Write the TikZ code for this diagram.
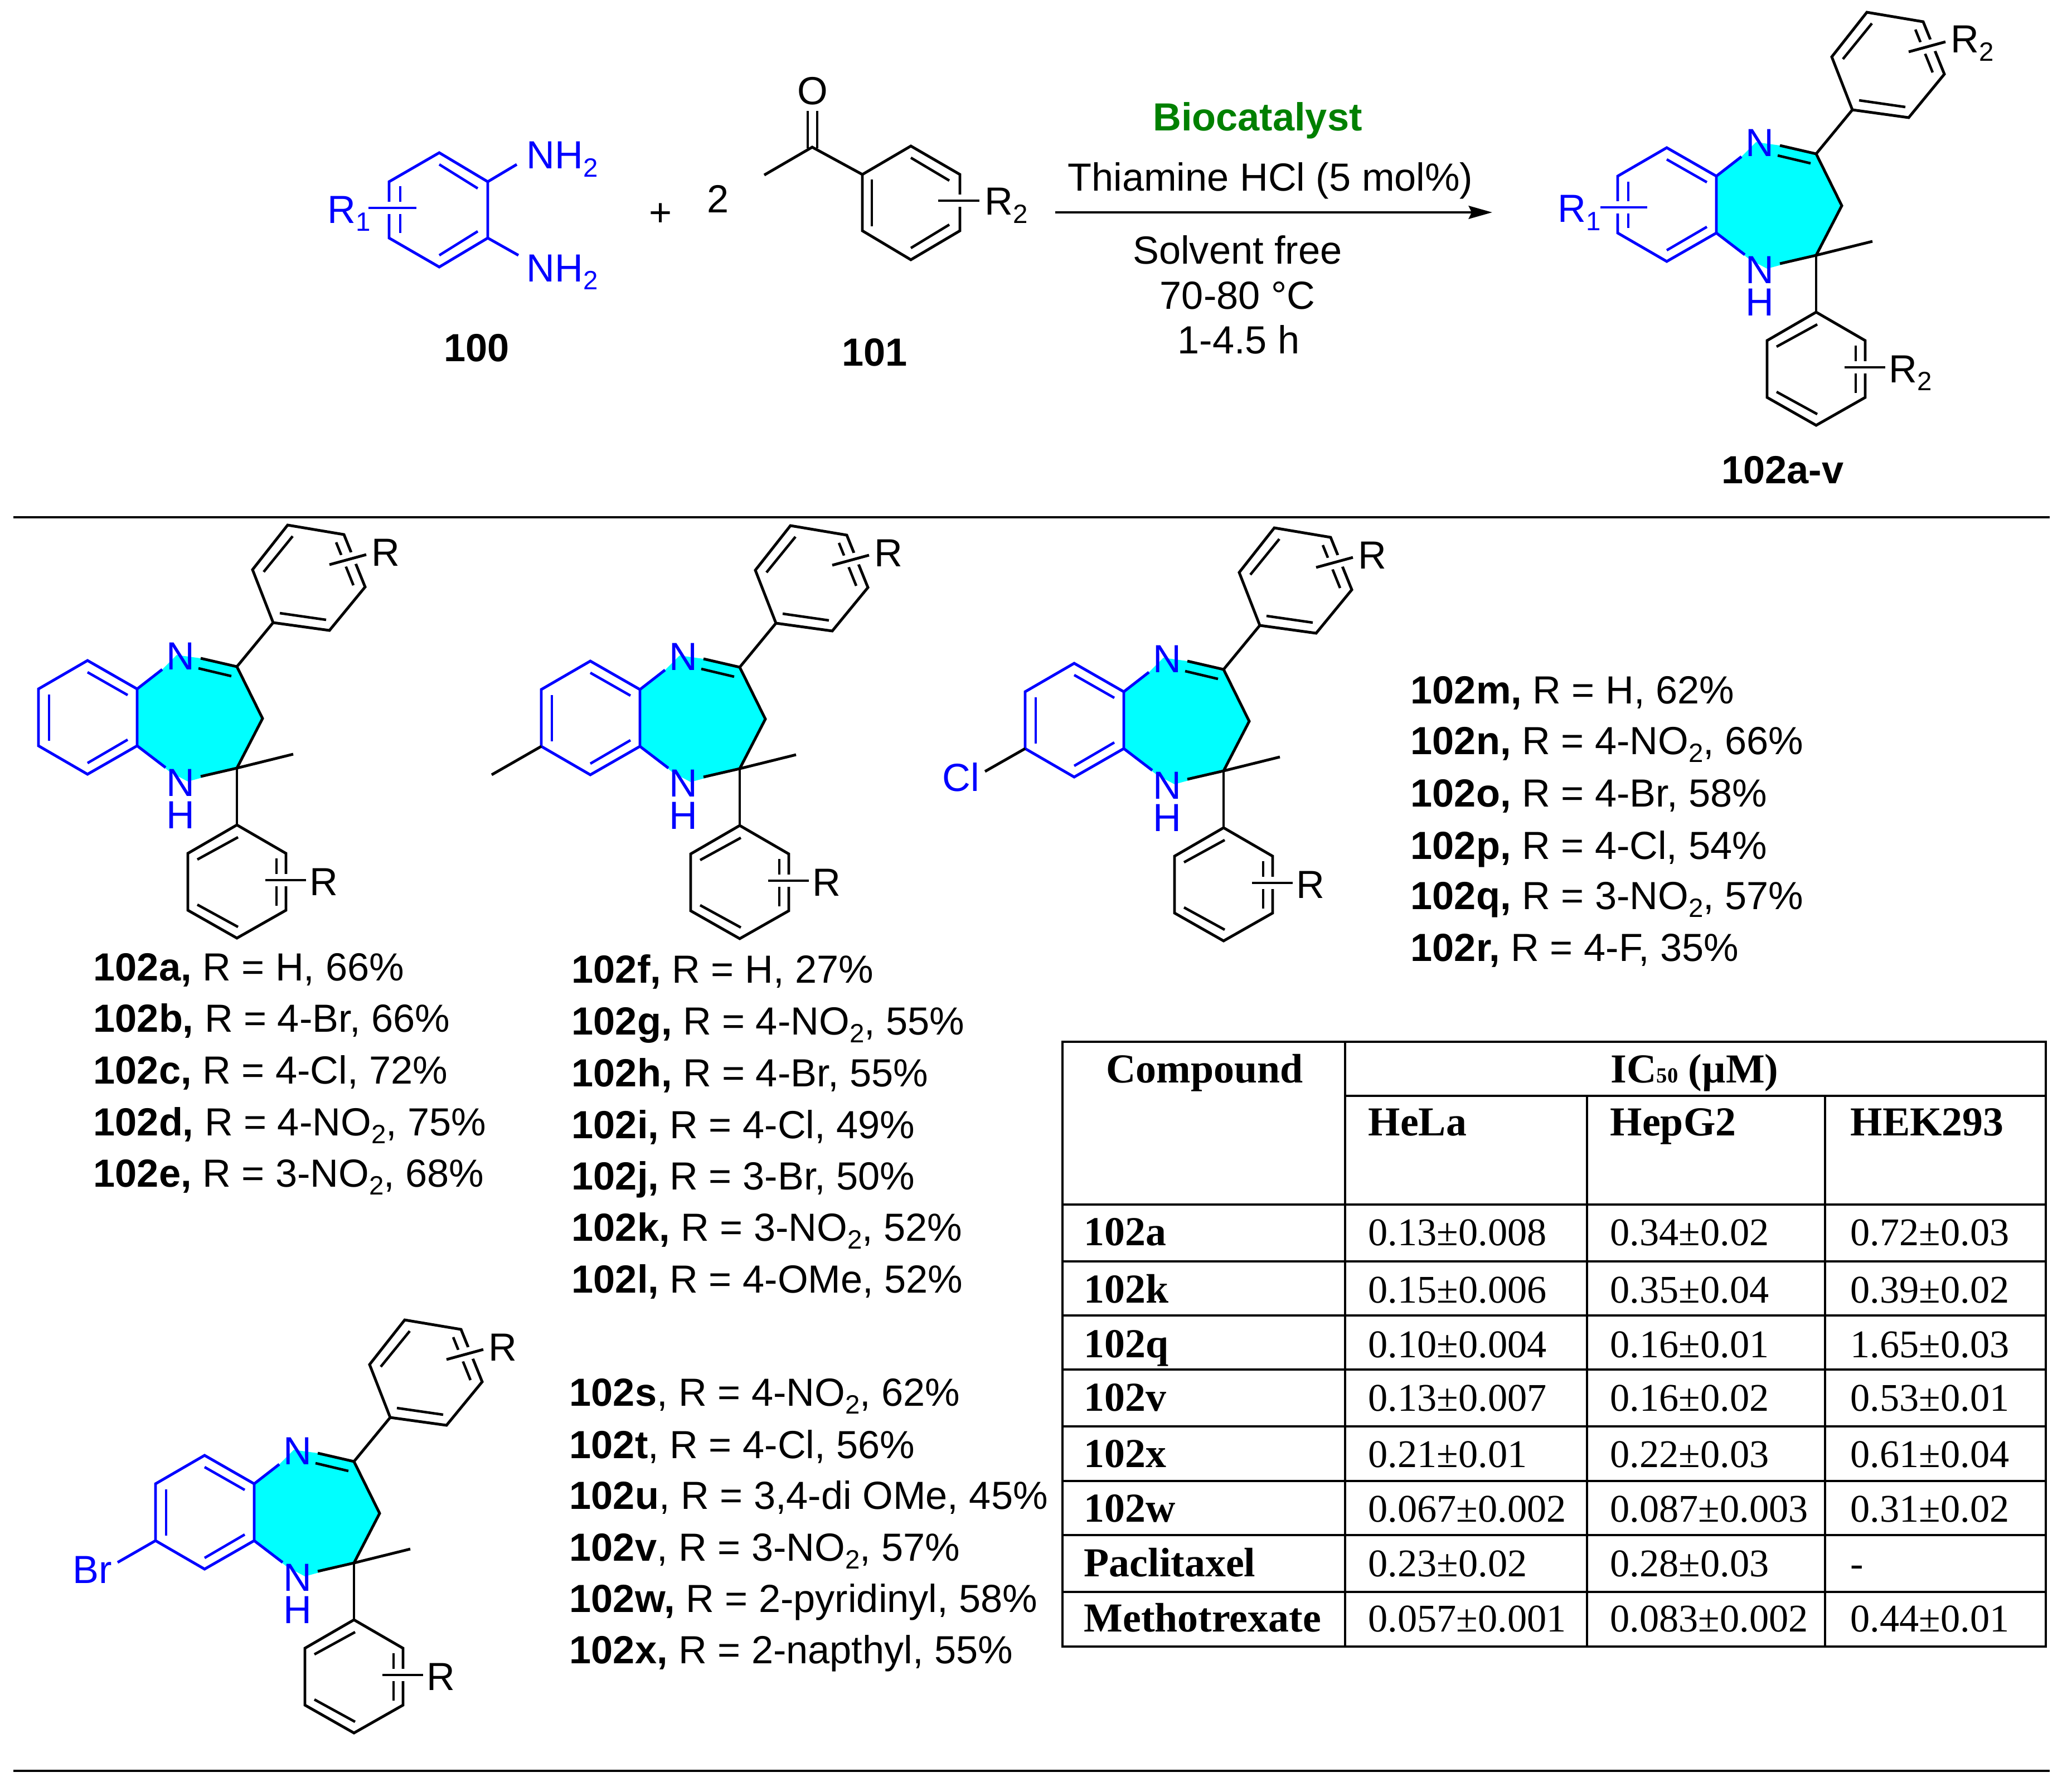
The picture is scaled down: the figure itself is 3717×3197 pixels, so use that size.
\documentclass[tikz,border=0pt]{standalone}
\usepackage{fontspec}
\usepackage{xcolor}
\usetikzlibrary{arrows.meta, positioning, calc}
\setmainfont{Liberation Sans}
\newfontfamily\tabfont{Liberation Serif}
\definecolor{RingBlue}{HTML}{0000FF}
\definecolor{RingCyan}{HTML}{00FFFF}
\definecolor{CatGreen}{HTML}{008000}
\newcommand{\lowd}[1]{\raisebox{-4.2pt}{\fontsize{13.5}{14}\selectfont #1}}
\tikzset{
  lbl/.style={inner sep=0pt, font=\fontsize{20}{24}\selectfont},
  row/.style={lbl, anchor=base west},
  cen/.style={lbl, anchor=base},
  boldlbl/.style={cen, font=\bfseries\fontsize{20}{24}\selectfont},
  cell/.style={inner sep=0pt, anchor=base west, font=\tabfont\fontsize{20}{24}\selectfont},
  boldcell/.style={cell, font=\tabfont\bfseries\fontsize{21}{24}\selectfont},
  bond/.style={line width=1.4pt},
  inner/.style={line width=1.3pt},
  halo/.style={draw=white, line width=6.3pt},
  grid/.style={line width=1.2pt},
  rule/.style={line width=1.2pt},
}
% bicyclic core with its two aryl groups: name, x, y, label on the aryl groups
\newcommand{\bdz}[4]{%
\begin{scope}[shift={(#2,#3)}]
  \coordinate (#1a) at (-89,-102);
  \coordinate (#1b) at (0,-51);
  \coordinate (#1c) at (0,51);
  \coordinate (#1d) at (-89,102);
  \coordinate (#1e) at (-177,51);
  \coordinate (#1f) at (-177,-51);
  \coordinate (#1imine) at (179,-91);
  \coordinate (#1ch) at (225,2);
  \coordinate (#1q) at (179,91);
  \coordinate (#1up) at (244,-170);
  \coordinate (#1lo) at (179,193);
  \fill[RingCyan] (#1b) -- (45,-86) -- (71,-112) -- (114,-106) -- (#1imine) -- (#1ch)
     -- (#1q) -- (91,115) -- (59,98) -- (#1c) -- cycle;
  \draw[bond, RingBlue] (#1a) -- (#1b) -- (#1c) -- (#1d) -- (#1e) -- (#1f) -- cycle;
  \draw[inner, RingBlue] (-89,-81) -- (-17,-40);
  \draw[inner, RingBlue] (-89,82) -- (-17,40);
  \draw[inner, RingBlue] (-158,-41) -- (-158,42);
  \draw[bond, RingBlue] (#1b) -- (45,-86);
  \draw[bond, RingBlue] (#1c) -- (51,90);
  \node[cen, text=RingBlue] (#1N) at (78,-86) {N};
  \node[lbl, anchor=south, align=center, text=RingBlue, font=\fontsize{20}{16.5}\selectfont] (#1NH) at (78,200) {N\\H};
  \draw[bond] (114,-106) -- (#1imine) -- (#1ch) -- (#1q) -- (114,106);
  \draw[inner] (110,-88) -- (169,-74);
  \draw[bond] (#1q) -- (280,66);
  \draw[bond] (#1imine) -- (#1up);
  \draw[bond] (#1q) -- (#1lo);
  % upper aryl
  \draw[bond] (#1up) -- (345,-156) -- (409,-234) -- (371,-328) -- (270,-345) -- (207,-265) -- cycle;
  \draw[inner] (227,-261) -- (279,-325);
  \draw[inner] (256,-187) -- (339,-175);
  \draw[inner] (388,-237) -- (357,-314);
  \draw[halo] (345,-274) -- (411,-292);
  \draw[bond] (345,-274) -- (411,-292);
  \node[row] (#1Rup) at (420,-272) {#4};
  % lower aryl
  \draw[bond] (#1lo) -- (267,244) -- (267,346) -- (179,396) -- (91,346) -- (91,244) -- cycle;
  \draw[inner] (108,255) -- (181,215);
  \draw[inner] (108,336) -- (181,376);
  \draw[inner] (250,253) -- (250,338);
  \draw[halo] (230,292) -- (303,292);
  \draw[bond] (230,292) -- (303,292);
  \node[row] (#1Rlo) at (309,319) {#4};
\end{scope}}

\begin{document}
\begin{tikzpicture}[x=0.01cm, y=-0.01cm]
\useasboundingbox (0,0) rectangle (3717,3197);

% reagent 100
\coordinate (da) at (788,274);
\coordinate (db) at (875,326);
\coordinate (dc) at (875,427);
\coordinate (dd) at (788,479);
\coordinate (de) at (698,427);
\coordinate (df) at (698,326);
\coordinate (dnup) at (927,295);
\coordinate (dnlo) at (930,458);
\draw[bond, RingBlue] (da) -- (db) -- (dc) -- (dd) -- (de) -- (df) -- cycle;
\draw[inner, RingBlue] (788,295) -- (857,338);
\draw[inner, RingBlue] (788,458) -- (857,415);
\draw[inner, RingBlue] (718,334) -- (718,418);
\draw[bond, RingBlue] (db) -- (dnup);
\draw[bond, RingBlue] (dc) -- (dnlo);
\draw[halo] (661,373) -- (747,373);
\draw[bond, RingBlue] (661,373) -- (747,373);
\node[row, text=RingBlue] (dR) at (587,400) {R\lowd{1}};
\node[row, text=RingBlue] (dNa) at (944,303) {NH\lowd{2}};
\node[row, text=RingBlue] (dNb) at (944,505) {NH\lowd{2}};
\node[boldlbl] (n100) at (855,648) {100};

\node[cen] (plus) at (1185,406) {+};
\node[cen] (two) at (1288,381) {2};

% reagent 101
\coordinate (kc) at (1457,264);
\coordinate (kme) at (1371,314);
\coordinate (ka) at (1547,313);
\coordinate (kb) at (1634,262);
\coordinate (kd) at (1722,313);
\coordinate (ke) at (1722,414);
\coordinate (kf) at (1634,466);
\coordinate (kg) at (1547,414);
\draw[bond] (kme) -- (kc) -- (ka);
\draw[bond] (ka) -- (kb) -- (kd) -- (ke) -- (kf) -- (kg) -- cycle;
\draw[inner] (1449,199) -- (1449,266);
\draw[inner] (1466,199) -- (1466,266);
\draw[inner] (1634,283) -- (1703,324);
\draw[inner] (1703,403) -- (1634,445);
\draw[inner] (1564,322) -- (1564,406);
\draw[halo] (1683,360) -- (1757,360);
\draw[bond] (1683,360) -- (1757,360);
\node[cen] (kO) at (1458,188) {O};
\node[row] (kR) at (1766,386) {R\lowd{2}};
\node[boldlbl] (n101) at (1569,656) {101};

% reaction arrow and conditions
\coordinate (arrowL) at (1893,381);
\coordinate (arrowR) at (2677,381);
\draw[bond, -{Stealth[length=12pt, width=6.6pt, inset=1.5pt]}] (arrowL) -- (arrowR);
\node[boldlbl, text=CatGreen] (cata) at (2256,235) {Biocatalyst};
\node[cen] (thia) at (2279,343) {Thiamine HCl (5 mol\%)};
\node[cen] (solv) at (2220,473) {Solvent free};
\node[cen] (temp) at (2220,554) {70-80 °C};
\node[cen] (time) at (2222,634) {1-4.5 h};

% product
\bdz{p}{3079}{367}{R\lowd{2}}
\draw[halo] (2871,372) -- (2955,372);
\draw[bond, RingBlue] (2871,372) -- (2955,372);
\node[row, text=RingBlue] (pR) at (2794,399) {R\lowd{1}};
\node[boldlbl] (n102) at (3198,867) {102a-v};

\coordinate (ruleAL) at (24,928);
\coordinate (ruleAR) at (3677,928);
\coordinate (ruleBL) at (24,3177);
\coordinate (ruleBR) at (3677,3177);
\draw[rule] (ruleAL) -- (ruleAR);
\draw[rule] (ruleBL) -- (ruleBR);

% series
\bdz{a}{246}{1287}{R}
\bdz{b}{1148}{1288}{R}
\draw[bond] (be) -- +(-89,51);
\bdz{c}{2016}{1292}{R}
\draw[bond] (ce) -- +(-72,41);
\node[lbl, anchor=base east, text=RingBlue] (cCl) at (1758,1419) {Cl};
\bdz{e}{456}{2713}{R}
\draw[bond, RingBlue] (ee) -- +(-68,39);
\node[lbl, anchor=base east, text=RingBlue] (eBr) at (202,2840) {Br};

% yields
\foreach \nm/\yy/\cmp/\txt in {a/1759/102a/{R = H, 66\%}, b/1851/102b/{R = 4-Br, 66\%},
    c/1944/102c/{R = 4-Cl, 72\%}, d/2037/102d/{R = 4-NO\lowd{2}, 75\%}, e/2129/102e/{R = 3-NO\lowd{2}, 68\%}}
  \node[row] (y\nm) at (167,\yy) {\textbf{\cmp,} \txt};
\foreach \nm/\yy/\cmp/\txt in {f/1763/102f/{R = H, 27\%}, g/1856/102g/{R = 4-NO\lowd{2}, 55\%},
    h/1949/102h/{R = 4-Br, 55\%}, i/2042/102i/{R = 4-Cl, 49\%}, j/2134/102j/{R = 3-Br, 50\%},
    k/2226/102k/{R = 3-NO\lowd{2}, 52\%}, l/2319/102l/{R = 4-OMe, 52\%}}
  \node[row] (y\nm) at (1025,\yy) {\textbf{\cmp,} \txt};
\foreach \nm/\yy/\cmp/\txt in {m/1262/102m/{R = H, 62\%}, n/1353/102n/{R = 4-NO\lowd{2}, 66\%},
    o/1447/102o/{R = 4-Br, 58\%}, p/1541/102p/{R = 4-Cl, 54\%}, q/1631/102q/{R = 3-NO\lowd{2}, 57\%},
    r/1724/102r/{R = 4-F, 35\%}}
  \node[row] (y\nm) at (2530,\yy) {\textbf{\cmp,} \txt};
\foreach \nm/\yy/\cmp/\txt in {s/2522/102s/{R = 4-NO\lowd{2}, 62\%}, t/2616/102t/{R = 4-Cl, 56\%},
    u/2707/102u/{R = 3,4-di OMe, 45\%}, v/2800/102v/{R = 3-NO\lowd{2}, 57\%}}
  \node[row] (y\nm) at (1021,\yy) {\textbf{\cmp}, \txt};
\foreach \nm/\yy/\cmp/\txt in {w/2892/102w/{R = 2-pyridinyl, 58\%}, x/2984/102x/{R = 2-napthyl, 55\%}}
  \node[row] (y\nm) at (1021,\yy) {\textbf{\cmp,} \txt};

% table
\draw[grid] (1906,1869) rectangle (3670,2954);
\draw[grid] (2413,1869) -- (2413,2954);
\draw[grid] (2847,1966) -- (2847,2954);
\draw[grid] (3274,1966) -- (3274,2954);
\draw[grid] (2413,1966) -- (3670,1966);
\foreach \yy in {2161,2263,2360,2457,2559,2657,2754,2856}
  \draw[grid] (1906,\yy) -- (3670,\yy);
\node[boldcell, anchor=base] (hcomp) at (2161,1942) {Compound};
\node[boldcell, anchor=base] (hic) at (3040,1942) {IC{\fontsize{11}{11}\selectfont 50} (µM)};
\node[boldcell] (hhela) at (2454,2037) {HeLa};
\node[boldcell] (hhepg) at (2888,2037) {HepG2};
\node[boldcell] (hhek) at (3319,2037) {HEK293};
\foreach \nm/\yy/\cmp/\he/\hp/\hk in {
    a/2234/102a/0.13±0.008/0.34±0.02/0.72±0.03,
    k/2337/102k/0.15±0.006/0.35±0.04/0.39±0.02,
    q/2435/102q/0.10±0.004/0.16±0.01/1.65±0.03,
    v/2531/102v/0.13±0.007/0.16±0.02/0.53±0.01,
    x/2632/102x/0.21±0.01/0.22±0.03/0.61±0.04,
    w/2730/102w/0.067±0.002/0.087±0.003/0.31±0.02,
    p/2828/Paclitaxel/0.23±0.02/0.28±0.03/-,
    m/2927/Methotrexate/0.057±0.001/0.083±0.002/0.44±0.01}{
  \node[boldcell] (t\nm c) at (1944,\yy) {\cmp};
  \node[cell] (t\nm a) at (2454,\yy) {\he};
  \node[cell] (t\nm b) at (2888,\yy) {\hp};
  \node[cell] (t\nm d) at (3319,\yy) {\hk};
}
\end{tikzpicture}
\end{document}
